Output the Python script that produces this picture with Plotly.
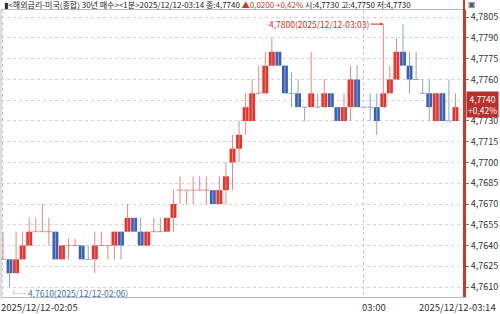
import pandas as pd
import plotly.graph_objects as go

# ---- data (1-minute candles, 2025/12/12 02:05 .. 03:14) ----
start_time = "2025-12-12 02:05"
opens = [4.7630, 4.7630, 4.7620, 4.7630, 4.7640, 4.7650, 4.7650, 4.7650, 4.7650, 4.7630,
         4.7640, 4.7640, 4.7640, 4.7630, 4.7630, 4.7640, 4.7640, 4.7640, 4.7650, 4.7650,
         4.7660, 4.7650, 4.7640, 4.7650, 4.7650, 4.7650, 4.7660, 4.7680, 4.7680, 4.7680,
         4.7680, 4.7680, 4.7680, 4.7670, 4.7680, 4.7700, 4.7710, 4.7730, 4.7730, 4.7750,
         4.7750, 4.7770, 4.7780, 4.7770, 4.7750, 4.7750, 4.7740, 4.7740, 4.7740, 4.7740,
         4.7750, 4.7740, 4.7730, 4.7740, 4.7760, 4.7740, 4.7740, 4.7740, 4.7740, 4.7750,
         4.7760, 4.7780, 4.7770, 4.7760, 4.7750, 4.7750, 4.7730, 4.7750, 4.7730, 4.7730]
highs = [4.7650, 4.7630, 4.7650, 4.7650, 4.7660, 4.7660, 4.7670, 4.7660, 4.7650, 4.7640,
         4.7645, 4.7645, 4.7640, 4.7640, 4.7650, 4.7650, 4.7640, 4.7650, 4.7650, 4.7670,
         4.7660, 4.7660, 4.7650, 4.7660, 4.7660, 4.7660, 4.7680, 4.7690, 4.7680, 4.7690,
         4.7690, 4.7690, 4.7680, 4.7690, 4.7700, 4.7720, 4.7730, 4.7750, 4.7760, 4.7770,
         4.7780, 4.7790, 4.7780, 4.7770, 4.7765, 4.7760, 4.7740, 4.7780, 4.7750, 4.7760,
         4.7750, 4.7740, 4.7750, 4.7770, 4.7770, 4.7740, 4.7750, 4.7750, 4.7800, 4.7770,
         4.7790, 4.7800, 4.7780, 4.7780, 4.7760, 4.7760, 4.7750, 4.7750, 4.7760, 4.7750]
lows = [4.7630, 4.7610, 4.7620, 4.7630, 4.7640, 4.7650, 4.7650, 4.7640, 4.7630, 4.7630,
        4.7630, 4.7640, 4.7630, 4.7630, 4.7620, 4.7640, 4.7630, 4.7630, 4.7630, 4.7650,
        4.7650, 4.7640, 4.7640, 4.7650, 4.7650, 4.7650, 4.7650, 4.7670, 4.7670, 4.7670,
        4.7680, 4.7670, 4.7670, 4.7670, 4.7670, 4.7680, 4.7700, 4.7720, 4.7730, 4.7750,
        4.7750, 4.7770, 4.7770, 4.7750, 4.7740, 4.7740, 4.7730, 4.7740, 4.7740, 4.7740,
        4.7740, 4.7730, 4.7730, 4.7730, 4.7740, 4.7740, 4.7730, 4.7720, 4.7740, 4.7750,
        4.7760, 4.7770, 4.7750, 4.7760, 4.7750, 4.7730, 4.7730, 4.7730, 4.7730, 4.7730]
closes = [4.7630, 4.7620, 4.7630, 4.7640, 4.7650, 4.7650, 4.7650, 4.7650, 4.7630, 4.7640,
          4.7640, 4.7640, 4.7630, 4.7630, 4.7640, 4.7640, 4.7640, 4.7650, 4.7640, 4.7660,
          4.7650, 4.7640, 4.7650, 4.7650, 4.7650, 4.7660, 4.7670, 4.7680, 4.7680, 4.7680,
          4.7680, 4.7680, 4.7670, 4.7680, 4.7690, 4.7710, 4.7720, 4.7740, 4.7750, 4.7750,
          4.7770, 4.7780, 4.7770, 4.7750, 4.7750, 4.7740, 4.7740, 4.7750, 4.7740, 4.7750,
          4.7740, 4.7730, 4.7740, 4.7760, 4.7740, 4.7740, 4.7740, 4.7730, 4.7750, 4.7760,
          4.7780, 4.7770, 4.7760, 4.7760, 4.7750, 4.7740, 4.7750, 4.7730, 4.7730, 4.7740]

y_ticks = [4.7610, 4.7625, 4.7640, 4.7655, 4.7670, 4.7685, 4.7700,
           4.7715, 4.7730, 4.7745, 4.7760, 4.7775, 4.7790, 4.7805]
x_grid_times = ["2025-12-12 02:05", "2025-12-12 03:00"]
x_label_texts = ["2025/12/12-02:05", "03:00"]
title_text = ("▮<해외금리-미국(종합) 30년 매수><1분>2025/12/12-03:14 종:4,7740 "
              "<span style='color:#d2302a'>▲0,0200 +0,42%</span> "
              "시:4,7730 고:4,7750 저:4,7730")
last_label = "2025/12/12-03:14"
last_box_text = "4,7740<br>+0,42%"

# ---- build ----
times = pd.date_range(start_time, periods=len(opens), freq="1min")
ML, MR, MT, MB = 1, 36, 10, 17
W, H = 500, 314
plot_h = H - MT - MB
plot_w = W - ML - MR

UP_FILL, UP_LINE = "#e8322a", "#e08a84"
DN_FILL, DN_LINE = "#3a62b4", "#8aa2d2"
BODY_MS = 54000
half = pd.Timedelta(milliseconds=BODY_MS / 2)

# direction per candle (doji follows change vs previous close)
dirs = []
up = True
prev = None
for o, c in zip(opens, closes):
    if c == o:
        if prev is not None and c != prev:
            up = c > prev
    else:
        up = c > o
    dirs.append(up)
    prev = c

fig = go.Figure()
for is_up, fill, wick in [(True, UP_FILL, UP_LINE), (False, DN_FILL, DN_LINE)]:
    idx = [i for i in range(len(opens)) if dirs[i] == is_up]
    wx, wy = [], []
    for i in idx:
        wx += [times[i], times[i], None]
        wy += [lows[i], highs[i], None]
    fig.add_trace(go.Scatter(x=wx, y=wy, mode="lines", line=dict(color=wick, width=1),
                             hoverinfo="skip", showlegend=False))
    dx, dy = [], []
    for i in idx:
        if opens[i] == closes[i]:
            dx += [times[i] - half, times[i] + half, None]
            dy += [opens[i], opens[i], None]
    fig.add_trace(go.Scatter(x=dx, y=dy, mode="lines", line=dict(color=wick, width=1),
                             hoverinfo="skip", showlegend=False))
    bidx = [i for i in idx if opens[i] != closes[i]]
    fig.add_trace(go.Bar(x=[times[i] for i in bidx],
                         y=[abs(closes[i] - opens[i]) for i in bidx],
                         base=[min(opens[i], closes[i]) for i in bidx],
                         width=BODY_MS, marker=dict(color=fill, line=dict(width=0)),
                         hoverinfo="skip", showlegend=False))

font_main = "Noto Sans CJK KR, DejaVu Sans, sans-serif"
annotations = []
annotations.append(dict(text=title_text, xref="paper", yref="paper", x=(2 - ML) / plot_w,
                        y=1 + 5.5 / plot_h, xanchor="left", yanchor="middle", showarrow=False,
                        font=dict(family=font_main, size=8, color="#222")))
for t, lab in zip(x_grid_times, x_label_texts):
    annotations.append(dict(text=lab, x=t, xref="x", y=0, yref="paper", yanchor="top",
                            xanchor="left", xshift=-4, yshift=-1, showarrow=False,
                            font=dict(family=font_main, size=9.5, color="#333")))
annotations.append(dict(text=last_label, xref="paper", x=1 + (MR - 2) / plot_w, y=0, yref="paper",
                        yanchor="top", xanchor="right", yshift=-1, showarrow=False,
                        font=dict(family=font_main, size=9.5, color="#333")))
hi_i = max(range(len(highs)), key=lambda i: highs[i])
lo_i = min(range(len(lows)), key=lambda i: lows[i])
hi_txt = f"{highs[hi_i]:.4f}".replace(".", ",") + "(" + times[hi_i].strftime("%Y/%m/%d-%H:%M") + ")"
lo_txt = f"{lows[lo_i]:.4f}".replace(".", ",") + "(" + times[lo_i].strftime("%Y/%m/%d-%H:%M") + ")"
annotations.append(dict(text=hi_txt, x=times[hi_i], y=highs[hi_i], xref="x", yref="y",
                        ax=-64, ay=0, showarrow=True, arrowhead=2, arrowsize=0.6, arrowwidth=1,
                        arrowcolor="#d2302a", standoff=0,
                        font=dict(family=font_main, size=8.5, color="#d2302a")))
annotations.append(dict(text="└─ " + lo_txt, x=times[lo_i], y=lows[lo_i], xref="x", yref="y",
                        xanchor="left", yanchor="top", xshift=-3, yshift=2, showarrow=False,
                        font=dict(family=font_main, size=8.5, color="#4b6ea8")))
annotations.append(dict(text=last_box_text, xref="paper", x=1 + 2 / plot_w, y=closes[-1], yref="y",
                        xanchor="left", yanchor="middle", yshift=3, showarrow=False,
                        bgcolor="#b8302a", borderpad=1, align="center",
                        font=dict(family=font_main, size=8.5, color="white")))
annotations.append(dict(text="▣", xref="paper", yref="paper", x=1 + 8 / plot_w, y=1 + 5 / plot_h,
                        xanchor="center", yanchor="middle", showarrow=False,
                        font=dict(family="DejaVu Sans", size=8, color="#555")))

shapes = [
    dict(type="line", xref="paper", yref="paper", x0=1, x1=1, y0=0, y1=1 + MT / plot_h,
         line=dict(color="#c8392e", width=2)),
    dict(type="line", xref="paper", yref="paper", x0=0, x1=0, y0=0, y1=1,
         line=dict(color="#bbbbbb", width=1)),
]

x0 = times[0] - pd.Timedelta(seconds=18)
x1 = times[-1] + pd.Timedelta(seconds=78)

fig.update_layout(
    width=W, height=H, margin=dict(l=ML, r=MR, t=MT, b=MB),
    paper_bgcolor="white", plot_bgcolor="white",
    separators=",.", barmode="overlay",
    annotations=annotations, shapes=shapes,
    xaxis=dict(range=[x0, x1], type="date",
               tickvals=x_grid_times, showticklabels=False, ticks="",
               showgrid=True, gridcolor="#c8c8c8", griddash="dot", gridwidth=1,
               showline=True, linecolor="#bbbbbb", linewidth=1, mirror=True, zeroline=False),
    yaxis=dict(side="right", range=[4.76028, 4.78102], tickvals=y_ticks, tickformat=".4f",
               ticks="outside", ticklen=3, tickcolor="#777", showline=True,
               linecolor="#c8392e", linewidth=2, showgrid=True, gridcolor="#d4d4d4",
               griddash="dot", gridwidth=1, zeroline=False,
               tickfont=dict(family=font_main, size=9, color="#333")),
    font=dict(family=font_main, size=9),
)

fig.write_html("out.html")
